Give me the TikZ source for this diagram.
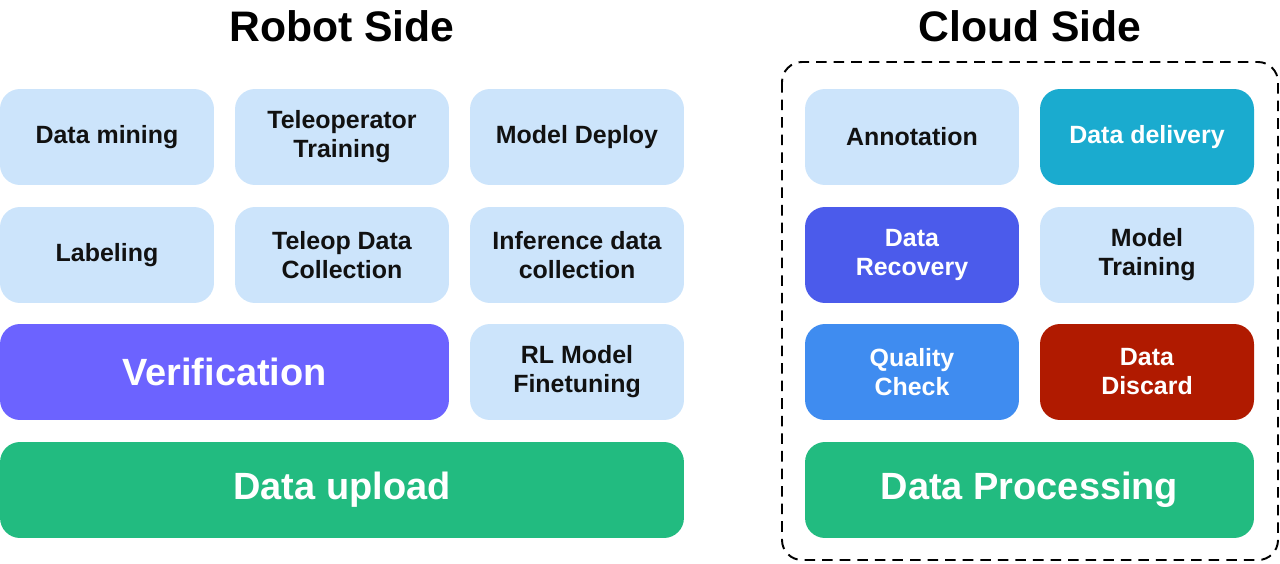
\documentclass[tikz,border=0pt]{standalone}
\usepackage{fontspec}
\setmainfont{Liberation Sans}
\usepackage{xcolor}

\definecolor{tilebg}{HTML}{CCE4FB}
\definecolor{verify}{HTML}{6C63FF}
\definecolor{upgreen}{HTML}{22BB80}
\definecolor{deliver}{HTML}{1AABCF}
\definecolor{recover}{HTML}{4B5BEB}
\definecolor{quality}{HTML}{3F8CF0}
\definecolor{discard}{HTML}{B01A00}
\definecolor{inktext}{HTML}{111111}

\tikzset{
  tile/.style={rounded corners=0.4cm, minimum width=4.28cm, minimum height=1.92cm,
    inner sep=0pt, align=center, font=\bfseries\fontsize{14.2}{16.5}\selectfont},
  light/.style={tile, fill=tilebg, text=inktext},
  dark/.style={tile, text=white},
  wide/.style={rounded corners=0.4cm, minimum height=1.92cm, inner sep=0pt,
    text=white, font=\bfseries\fontsize{21.6}{26}\selectfont},
  sidetitle/.style={font=\bfseries\fontsize{24.3}{29}\selectfont, text=black}
}

\begin{document}
\begin{tikzpicture}[x=0.02cm, y=-0.02cm]

\useasboundingbox (0,0) rectangle (1280,564);

% titles
\node[sidetitle] (robot) at (342,26) {Robot Side};
\node[sidetitle] (cloud) at (1030,26) {Cloud Side};

% robot side
\node[light] (mining)   at (107,137) {Data mining};
\node[light] (teletrain) at (342,137) {Teleoperator\\Training};
\node[light] (deploy)   at (577,137) {Model Deploy};

\node[light] (labeling) at (107,255) {Labeling};
\node[light] (telecoll) at (342,255) {Teleop Data\\Collection};
\node[light] (infer)    at (577,255) {Inference data\\collection};

\node[wide, fill=verify, minimum width=8.98cm] (verification) at (224.5,372) {Verification};
\node[light] (rlfine)   at (577,372) {RL Model\\Finetuning};

\node[wide, fill=upgreen, minimum width=13.68cm] (upload) at (342,490) {Data upload};

% cloud side
\draw[line width=1.1pt, dash pattern=on 6pt off 4pt, rounded corners=0.4cm]
  (782,62) rectangle (1278,560);

\node[light] (annot)    at (912,137) {Annotation};
\node[dark, fill=deliver] (delivery) at (1147,137) {Data delivery};

\node[dark, fill=recover] (recovery) at (912,255) {Data\\Recovery};
\node[light] (training) at (1147,255) {Model\\Training};

\node[dark, fill=quality] (qcheck)   at (912,372) {Quality\\Check};
\node[dark, fill=discard] (ddiscard) at (1147,372) {Data\\Discard};

\node[wide, fill=upgreen, minimum width=8.98cm] (processing) at (1029.5,490) {Data Processing};

\end{tikzpicture}
\end{document}
